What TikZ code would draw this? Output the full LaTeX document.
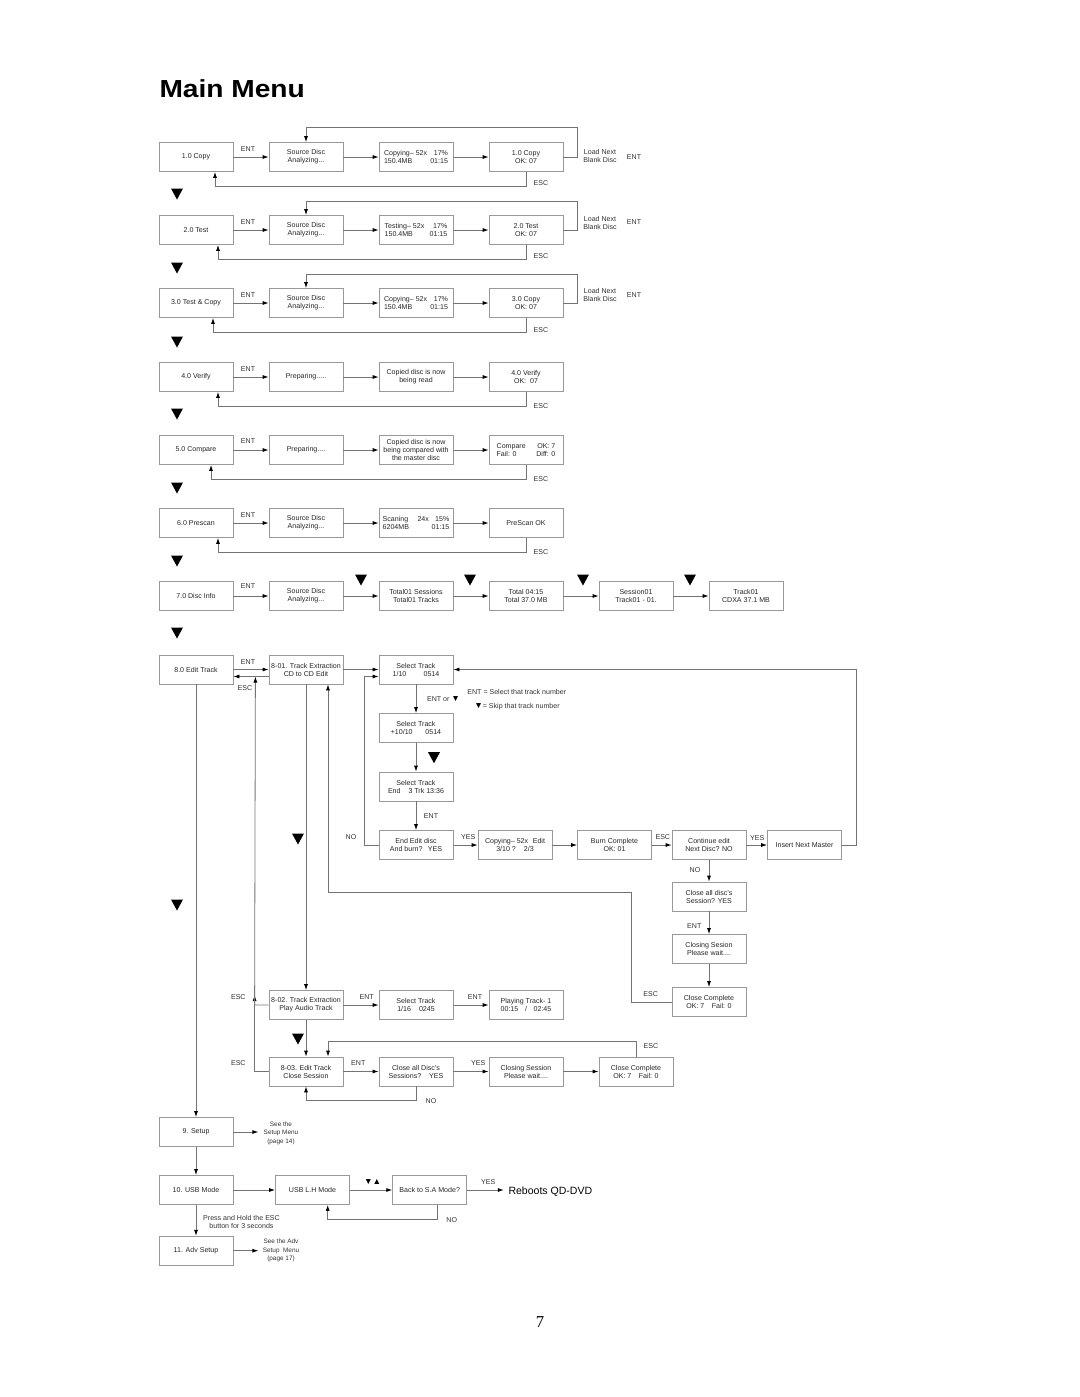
\documentclass[tikz,border=0pt]{standalone}
\usepackage{fontspec}
\setmainfont{Liberation Sans}
\newfontfamily\pagefont{Liberation Serif}
\usetikzlibrary{arrows.meta,calc}

\tikzset{every picture/.style={line width=0.75pt}}
\tikzset{
  box/.style={draw=black!40, line width=0.6pt, minimum width=55.5pt, minimum height=21.75pt, inner sep=1pt, align=center, font=\fontsize{5.3}{6}\selectfont, text=black!85},
  lbl/.style={font=\fontsize{5.3}{6}\selectfont, text=black!80, inner sep=0pt, align=center},
  link/.style={draw=black!55, line width=0.6pt, -{Latex[length=4.5pt,width=3pt,color=black]}},
  plain/.style={draw=black!55, line width=0.6pt},
}
\newcommand{\lr}[3]{\makebox[#1pt]{#2\hfill #3}}
\newcommand{\bigdown}[1]{\fill #1 ++(-6,-5.5) -- ++(12,0) -- ++(-6,11) -- cycle;}

\begin{document}
\begin{tikzpicture}[x=0.75pt,y=0.75pt,yscale=-1,xscale=1]
\useasboundingbox (0,0) rectangle (1080,1397);

% Title
\node[anchor=base west, inner sep=0pt, font=\bfseries\fontsize{18.5}{20}\selectfont] (title) at (159,97.3) {\scalebox{1.14}[1]{Main Menu}};

%Shape: Rectangle -- row 1.0
\node[box] (copy) at (196,157) {1.0 Copy};
\node[box] (copySrc) at (306,157) {Source Disc\\Analyzing...};
\node[box] (copyRun) at (416,157) {\lr{48}{Copying– 52x}{17\%}\\\lr{48}{150.4MB}{01:15}};
\node[box] (copyOk) at (526,157) {1.0 Copy\\OK: 07};
%Straight Lines
\draw[link] (copy) -- (copySrc);
\draw[link] (copySrc) -- (copyRun);
\draw[link] (copyRun) -- (copyOk);
\draw[link] (copyOk.east) -- ++(14,0) -- ++(0,-30) -| (copySrc.north);
\draw[link] (copyOk.south) -- ++(0,14.5) -| ($(copy.south)+(19,0)$);
% Text Node
\node[lbl] (copyEnt) at (248,149) {ENT};
\node[lbl] (copyLoad) at (600,156) {Load Next\\Blank Disc};
\node[lbl] (copyEnt2) at (634,157) {ENT};
\node[lbl] (copyEsc) at (541,183) {ESC};

%Shape: Rectangle -- row 2.0
\node[box] (test) at (196,230) {2.0 Test};
\node[box] (testSrc) at (306,230) {Source Disc\\Analyzing...};
\node[box] (testRun) at (416,230) {\lr{47}{Testing– 52x}{17\%}\\\lr{47}{150.4MB}{01:15}};
\node[box] (testOk) at (526,230) {2.0 Test\\OK: 07};
%Straight Lines
\draw[link] (test) -- (testSrc);
\draw[link] (testSrc) -- (testRun);
\draw[link] (testRun) -- (testOk);
\draw[link] (testOk.east) -- ++(14,0) -- ++(0,-29) -| (testSrc.north);
\draw[link] (testOk.south) -- ++(0,14.5) -| ($(test.south)+(22,0)$);
% Text Node
\node[lbl] (testEnt) at (248,222) {ENT};
\node[lbl] (testLoad) at (600,222.5) {Load Next\\Blank Disc};
\node[lbl] (testEnt2) at (634,222) {ENT};
\node[lbl] (testEsc) at (541,256) {ESC};

%Shape: Rectangle -- row 3.0
\node[box] (tcopy) at (196,303) {3.0 Test \& Copy};
\node[box] (tcopySrc) at (306,303) {Source Disc\\Analyzing...};
\node[box] (tcopyRun) at (416,303) {\lr{48}{Copying– 52x}{17\%}\\\lr{48}{150.4MB}{01:15}};
\node[box] (tcopyOk) at (526,303) {3.0 Copy\\OK: 07};
%Straight Lines
\draw[link] (tcopy) -- (tcopySrc);
\draw[link] (tcopySrc) -- (tcopyRun);
\draw[link] (tcopyRun) -- (tcopyOk);
\draw[link] (tcopyOk.east) -- ++(14,0) -- ++(0,-29) -| (tcopySrc.north);
\draw[link] (tcopyOk.south) -- ++(0,14.5) -| ($(tcopy.south)+(17,0)$);
% Text Node
\node[lbl] (tcopyEnt) at (248,295) {ENT};
\node[lbl] (tcopyLoad) at (600,295) {Load Next\\Blank Disc};
\node[lbl] (tcopyEnt2) at (634,295) {ENT};
\node[lbl] (tcopyEsc) at (541,330) {ESC};

%Shape: Rectangle -- row 4.0
\node[box] (verify) at (196,377) {4.0 Verify};
\node[box] (verifyPrep) at (306,377) {Preparing.....};
\node[box] (verifyRead) at (416,377) {Copied disc is now\\being read};
\node[box] (verifyOk) at (526,377) {4.0 Verify\\OK:\ \ 07};
%Straight Lines
\draw[link] (verify) -- (verifyPrep);
\draw[link] (verifyPrep) -- (verifyRead);
\draw[link] (verifyRead) -- (verifyOk);
\draw[link] (verifyOk.south) -- ++(0,14.5) -| ($(verify.south)+(22,0)$);
% Text Node
\node[lbl] (verifyEnt) at (248,369) {ENT};
\node[lbl] (verifyEsc) at (541,406) {ESC};

%Shape: Rectangle -- row 5.0
\node[box] (cmp) at (196,450) {5.0 Compare};
\node[box] (cmpPrep) at (306,450) {Preparing....};
\node[box] (cmpRead) at (416,450) {Copied disc is now\\being compared with\\the master disc};
\node[box] (cmpRes) at (526,450) {\lr{44}{Compare}{OK: 7}\\\lr{44}{Fail: 0}{Diff: 0}};
%Straight Lines
\draw[link] (cmp) -- (cmpPrep);
\draw[link] (cmpPrep) -- (cmpRead);
\draw[link] (cmpRead) -- (cmpRes);
\draw[link] (cmpRes.south) -- ++(0,14.5) -| ($(cmp.south)+(15,0)$);
% Text Node
\node[lbl] (cmpEnt) at (248,441) {ENT};
\node[lbl] (cmpEsc) at (541,479) {ESC};

%Shape: Rectangle -- row 6.0
\node[box] (scan) at (196,523) {6.0 Prescan};
\node[box] (scanSrc) at (306,523) {Source Disc\\Analyzing...};
\node[box] (scanRun) at (416,523) {\lr{50}{Scaning\hspace{7pt}24x}{15\%}\\\lr{50}{6204MB}{01:15}};
\node[box] (scanOk) at (526,523) {PreScan OK};
%Straight Lines
\draw[link] (scan) -- (scanSrc);
\draw[link] (scanSrc) -- (scanRun);
\draw[link] (scanRun) -- (scanOk);
\draw[link] (scanOk.south) -- ++(0,14.5) -| ($(scan.south)+(22,0)$);
% Text Node
\node[lbl] (scanEnt) at (248,515) {ENT};
\node[lbl] (scanEsc) at (541,552) {ESC};

%Shape: Rectangle -- row 7.0
\node[box] (info) at (196,596) {7.0 Disc Info};
\node[box] (infoSrc) at (306,596) {Source Disc\\Analyzing...};
\node[box] (infoSess) at (416,596) {Total01 Sessions\\Total01 Tracks};
\node[box] (infoTime) at (526,596) {Total 04:15\\Total 37.0 MB};
\node[box] (infoTrk) at (636,596) {Session01\\Track01 - 01.};
\node[box] (infoCd) at (746,596) {Track01\\CDXA 37.1 MB};
%Straight Lines
\draw[link] (info) -- (infoSrc);
\draw[link] (infoSrc) -- (infoSess);
\draw[link] (infoSess) -- (infoTime);
\draw[link] (infoTime) -- (infoTrk);
\draw[link] (infoTrk) -- (infoCd);
% Text Node
\node[lbl] (infoEnt) at (248,586) {ENT};

%Shape: Rectangle -- row 8.0
\node[box] (edit) at (196,669.5) {8.0 Edit Track};
\node[box] (ext) at (306,669.5) {8-01. Track Extraction\\CD to CD Edit};
\node[box] (sel) at (416,669.5) {Select Track\\\lr{35}{1/10}{0514}};
\node[box] (selNext) at (416,728) {Select Track\\\lr{37.7}{+10/10}{0514}};
\node[box] (selEnd) at (416,786.5) {Select Track\\\lr{42}{End}{3 Trk 13:36}};
\node[box] (endEdit) at (416,845) {End Edit disc\\And burn?\hspace{4pt}YES};
\node[box] (burn) at (515,845) {\lr{45}{Copying– 52x}{Edit}\\3/10 ?\hspace{6pt}2/3};
\node[box] (burnOk) at (614.5,845) {Burn Complete\\OK: 01};
\node[box] (cont) at (709,845) {Continue edit\\Next Disc? NO};
\node[box] (insert) at (804.5,845) {Insert Next Master};
\node[box] (closeAll) at (709,896.5) {Close all disc's\\Session? YES};
\node[box] (closing) at (709,949) {Closing Sesion\\Please wait....};
\node[box] (closeOk) at (709,1002) {Close Complete\\\lr{34}{OK: 7}{Fail: 0}};
\node[box] (play) at (306,1005) {8-02. Track Extraction\\Play Audio Track};
\node[box] (playSel) at (416,1005) {Select Track\\1/16\hspace{6pt}0245};
\node[box] (playing) at (526,1005) {Playing Track- 1\\00:15\hspace{5pt}/\hspace{5pt}02:45};
\node[box] (close) at (306,1071.5) {8-03. Edit Track\\Close Session};
\node[box] (closeQ) at (416,1071.5) {Close all Disc's\\Sessions?\hspace{6pt}YES};
\node[box] (closeWait) at (526,1071.5) {Closing Session\\Please wait....};
\node[box] (closeDone) at (636,1071.5) {Close Complete\\\lr{34}{OK: 7}{Fail: 0}};

%Straight Lines
\draw[link] (edit) -- (ext);
\draw[link] ($(ext.west)+(0,7)$) -- ($(edit.east)+(0,7)$);
\draw[link] (ext) -- (sel);
\draw[link] (sel) -- (selNext);
\draw[link] (selNext) -- (selEnd);
\draw[link] (selEnd) -- (endEdit);
\draw[link] (endEdit.west) -- ++(-14.5,0) |- ($(sel.west)+(0,7)$);
\draw[link] (endEdit) -- (burn);
\draw[link] (burn) -- (burnOk);
\draw[link] (burnOk) -- (cont);
\draw[link] (cont) -- (insert);
\draw[link] (insert.east) -- ++(14.7,0) |- (sel.east);
\draw[link] (cont) -- (closeAll);
\draw[link] (closeAll) -- (closing);
\draw[link] (closing) -- (closeOk);
\draw[link] (closeOk.west) -- ++(-40,0) -- ++(0,-109.7) -| ($(ext.south)+(22,0)$);
\draw[link] (ext) -- (play);
\draw[link] (play) -- (playSel);
\draw[link] (playSel) -- (playing);
\draw[link] (play) -- (close);
\draw[link] (close) -- (closeQ);
\draw[link] (closeQ) -- (closeWait);
\draw[link] (closeWait) -- (closeDone);
\draw[link] (closeDone.north) -- ++(0,-15) -| ($(close.north)+(22,0)$);
\draw[link] (closeQ.south) -- ++(0,14) -| (close.south);
\draw[link] (close.west) -- ++(-14,0) -- ($(play.west)+(-14,-10)$);
\draw[link] (play.west) -- ++(-14,0) -- ($(edit.east)+(22,7)$);

% Text Node
\node[lbl] (editEnt) at (248,661.7) {ENT};
\node[lbl] (editEsc) at (245,688) {ESC};
\node[lbl] (selEnt) at (443.5,699.3) {ENT or {\fontsize{6.5}{6}\selectfont\color{black}▼}};
\node[lbl] (keyEnt) at (516.8,692.3) {ENT = Select that track number};
\node[lbl] (keySkip) at (517,706.7) {{\fontsize{6.5}{6}\selectfont\color{black}▼}= Skip that track number};
\node[lbl] (endEnt) at (431,815.7) {ENT};
\node[lbl] (endNo) at (351,837.3) {NO};
\node[lbl] (endYes) at (468.3,837.3) {YES};
\node[lbl] (burnEsc) at (662.8,837.3) {ESC};
\node[lbl] (contYes) at (757.3,837.7) {YES};
\node[lbl] (contNo) at (695,870) {NO};
\node[lbl] (closeAllEnt) at (694.3,925.7) {ENT};
\node[lbl] (closeOkEsc) at (650.7,994) {ESC};
\node[lbl] (playEsc) at (238.3,997.3) {ESC};
\node[lbl] (playEnt) at (366.7,997.3) {ENT};
\node[lbl] (playSelEnt) at (475,997.3) {ENT};
\node[lbl] (closeEsc) at (238.3,1063.3) {ESC};
\node[lbl] (closeEnt) at (358.3,1063.3) {ENT};
\node[lbl] (closeYes) at (478.3,1063.3) {YES};
\node[lbl] (closeDoneEsc) at (651,1046) {ESC};
\node[lbl] (closeNo) at (431,1101) {NO};

%Shape: Rectangle -- rows 9 to 11
\node[box] (setup) at (196,1132) {9. Setup};
\node[box] (usb) at (196,1190) {10. USB Mode};
\node[box] (usbLH) at (312.5,1190) {USB L.H Mode};
\node[box] (backSA) at (429.7,1190) {Back to S.A Mode?};
\node[box] (adv) at (196,1250.7) {11. Adv Setup};
%Straight Lines
\draw[link] (edit) -- (setup);
\draw[link] (setup) -- (usb);
\draw[link] (usb) -- (adv);
\draw[link] (setup.east) -- ++(25,0);
\draw[link] (adv.east) -- ++(25,0);
\draw[link] (usb) -- (usbLH);
\draw[link] (usbLH) -- (backSA);
\draw[link] (backSA.east) -- ++(36.7,0);
\draw[link] ($(backSA.south)+(7.6,0)$) -- ++(0,14.5) -| ($(usbLH.south)+(15.2,0)$);
% Text Node
\node[lbl, font=\fontsize{4.8}{6.5}\selectfont] (setupSee) at (281,1133) {See the\\Setup Menu\\(page 14)};
\node[lbl, font=\fontsize{4.8}{6.5}\selectfont] (advSee) at (281,1250.5) {See the Adv\\Setup\ \ Menu\\(page 17)};
\node[lbl] (usbHold) at (241.5,1221.5) {Press and Hold the ESC\\button for 3 seconds};
\node[lbl, font=\fontsize{6.5}{6}\selectfont, text=black] (usbKeys) at (372.7,1181.7) {▼▲};
\node[lbl] (backYes) at (488.3,1181.7) {YES};
\node[lbl] (backNo) at (451.7,1220) {NO};
\node[anchor=west, inner sep=0pt, font=\fontsize{7.9}{9}\selectfont] (reboot) at (508,1191.7) {Reboots QD-DVD};

%Shape: Triangles
\bigdown{(177,194)} \bigdown{(177,268)} \bigdown{(177,342)} \bigdown{(177,414)}
\bigdown{(177,488)} \bigdown{(177,561)} \bigdown{(177,633)} \bigdown{(177,905)}
\bigdown{(361,580)} \bigdown{(470,580)} \bigdown{(583,580)} \bigdown{(690,580)}
\bigdown{(434,757.7)} \bigdown{(298,839)} \bigdown{(298,1039)}

% Page number
\node[font=\pagefont\fontsize{12.5}{14}\selectfont] (page) at (540,1322) {7};

\end{tikzpicture}
\end{document}
